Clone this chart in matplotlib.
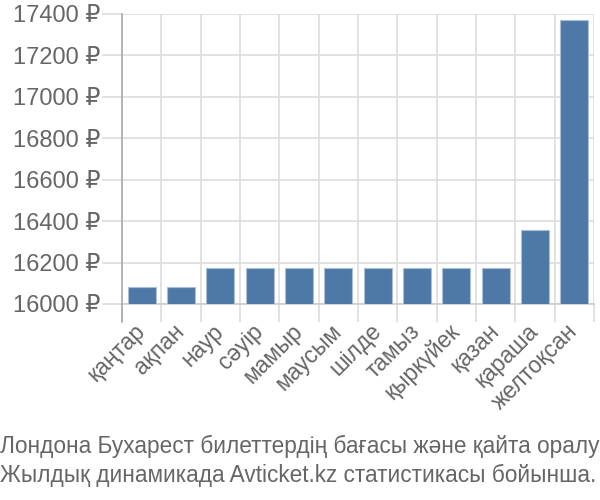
import matplotlib
matplotlib.use("Agg")
import matplotlib.pyplot as plt
import numpy as np

plt.rcParams['font.family'] = ['Liberation Sans', 'DejaVu Sans']

months = ["қаңтар", "ақпан", "наур", "сәуір", "мамыр", "маусым", "шілде",
          "тамыз", "қыркүйек", "қазан", "қараша", "желтоқсан"]
prices = [16080, 16080, 16172, 16172, 16172, 16172, 16172,
          16172, 16172, 16172, 16357, 17371]
yticks = [16000, 16200, 16400, 16600, 16800, 17000, 17200, 17400]
ytick_labels = [f"{v} ₽" for v in yticks]
caption_lines = ["Лондона Бухарест билеттердің бағасы және қайта оралу",
                 "Жылдық динамикада Avticket.kz статистикасы бойынша."]

fig = plt.figure(figsize=(6, 5), dpi=100)
ax = fig.add_axes([122/600, 1-304/500, (594-122)/600, (304-14)/500])

x = np.arange(len(months))
ax.bar(x, prices, width=0.72, color="#4e79a7", edgecolor="#a9bfd6", linewidth=0.8, zorder=3)

ax.set_xlim(-0.5, len(months) - 0.5)
ax.set_ylim(16000, 17400)

grid_c = "#dddddd"
ax.set_yticks(yticks)
ax.set_yticklabels(ytick_labels)
ax.yaxis.grid(True, color=grid_c, linewidth=1.2, zorder=0)
ax.tick_params(axis='y', length=14.4, color=grid_c, width=1.2, labelsize=17, labelcolor="#666666", pad=1)

ax.set_xticks(x)
ax.set_xticklabels(months, rotation=45, ha='right', va='center', rotation_mode='anchor')
ax.tick_params(axis='x', which='major', length=0, labelsize=16.5, labelcolor="#666666", pad=17)
ax.set_xticks(np.arange(len(months) + 1) - 0.5, minor=True)
ax.xaxis.grid(True, which='minor', color=grid_c, linewidth=1.2, zorder=0)
ax.tick_params(axis='x', which='minor', length=13, color=grid_c, width=1.2)

for s in ['top', 'right', 'left']:
    ax.spines[s].set_visible(False)
ax.spines['bottom'].set_color("#cccccc")
ax.spines['bottom'].set_linewidth(1.2)
ax.plot([0, 0], [-0.062, 1], transform=ax.transAxes, color="#aaaaaa",
        linewidth=1.2, clip_on=False, zorder=4)

for i, line in enumerate(caption_lines):
    fig.text(0.0, 1 - (453 + 29 * i) / 500, line, fontsize=16.3, color="#666666",
             ha='left', va='baseline')

fig.savefig("out.png", dpi=100)
